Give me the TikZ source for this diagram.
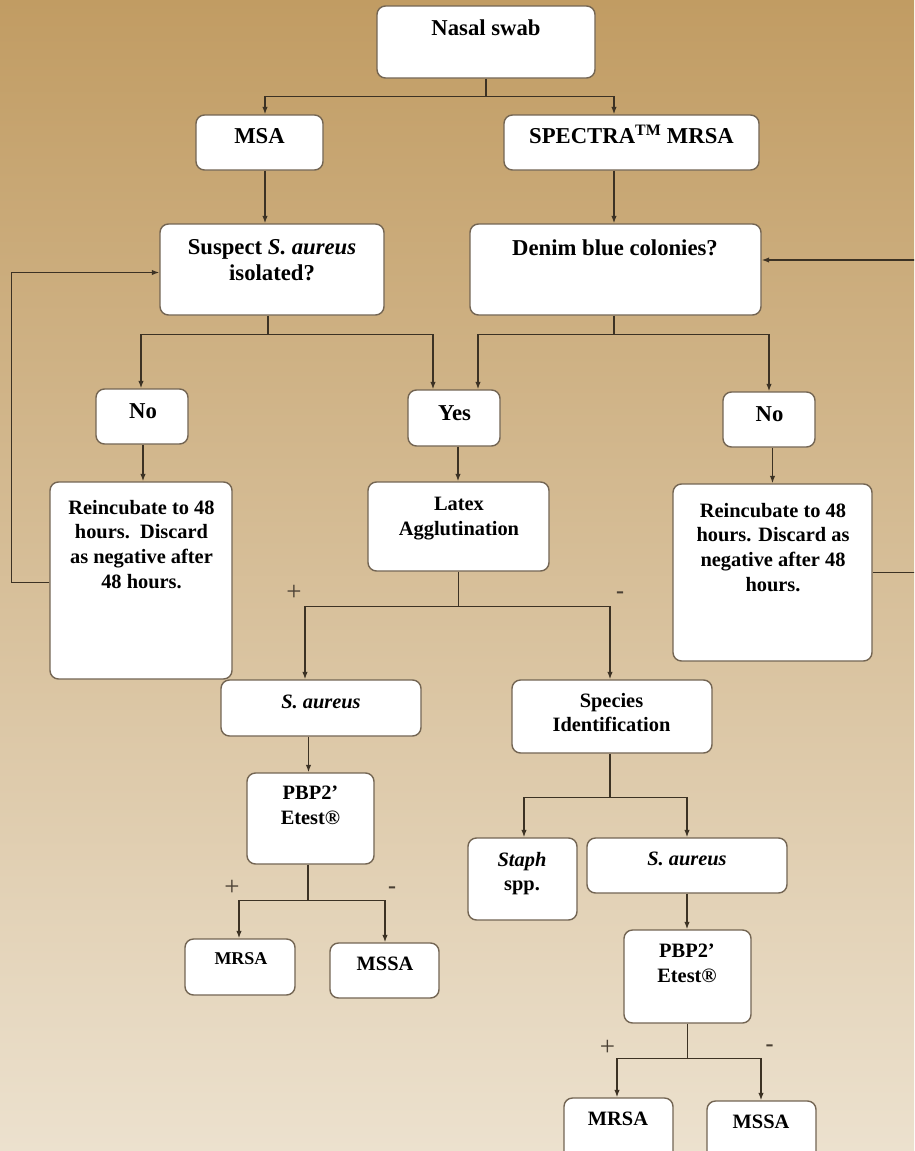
\documentclass[tikz,border=0pt]{standalone}
\usepackage{fontspec}
\setmainfont{Liberation Serif}
\usetikzlibrary{arrows.meta,fit,calc}
\definecolor{bgtop}{HTML}{C19C63}
\definecolor{bgmid}{HTML}{D7BE95}
\definecolor{bgbot}{HTML}{ECE1CE}
\definecolor{edgecol}{HTML}{736553}
\definecolor{lncol}{HTML}{3C3224}
\definecolor{pmcol}{HTML}{4A4034}
\tikzset{
  box/.style={draw=edgecol, fill=white, rounded corners=8.5pt, line width=1.4pt, inner sep=0pt},
  ta/.style={font=\fontsize{22.7}{26}\selectfont\bfseries, inner sep=0pt, align=center, text=black},
  tb/.style={font=\fontsize{20.4}{24.6}\selectfont\bfseries, inner sep=0pt, align=center, text=black},
  tc/.style={font=\fontsize{18}{22}\selectfont\bfseries, inner sep=0pt, align=center, text=black},
  pm/.style={font=\fontsize{27}{27}\selectfont, inner sep=0pt, text=pmcol},
  mn/.style={font=\fontsize{24}{24}\selectfont\bfseries, inner sep=0pt, text=pmcol},
  ln/.style={draw=lncol, line width=1.4pt},
  arr/.style={ln, -{Latex[length=7.5pt,width=5.5pt]}}
}
\begin{document}
\begin{tikzpicture}[x=1pt,y=-1pt]
\useasboundingbox (0,0) rectangle (914,1151);
\clip (0,0) rectangle (914,1151);
\shade[top color=bgtop, middle color=bgmid, bottom color=bgbot] (0,0) rectangle (914,1151);

% boxes
\node[box, fit={(377,6) (595,78)}] (ns) {};
\node[box, fit={(196,115) (323,170)}] (msa) {};
\node[box, fit={(504,115) (759,170)}] (spectra) {};
\node[box, fit={(160,224) (384,315)}] (sus) {};
\node[box, fit={(470,224) (761,315)}] (denim) {};
\node[box, fit={(96,389) (188,444)}] (nol) {};
\node[box, fit={(408,390) (500,446)}] (yes) {};
\node[box, fit={(723,392) (815,447)}] (nor) {};
\node[box, fit={(50,482) (232,679)}] (reinl) {};
\node[box, fit={(368,482) (549,571)}] (latex) {};
\node[box, fit={(673,484) (872,661)}] (reinr) {};
\node[box, fit={(221,680) (421,736)}] (sal) {};
\node[box, fit={(512,680) (712,753)}] (spec) {};
\node[box, fit={(247,773) (374,864)}] (pbpl) {};
\node[box, fit={(468,838) (577,920)}] (staph) {};
\node[box, fit={(587,838) (787,893)}] (sar) {};
\node[box, fit={(185,939) (295,995)}] (mrsal) {};
\node[box, fit={(330,943) (439,998)}] (mssal) {};
\node[box, fit={(624,930) (751,1023)}] (pbpr) {};
\node[box, fit={(564,1098) (673,1175)}] (mrsar) {};
\node[box, fit={(707,1101) (816,1175)}] (mssar) {};

% texts
\node[ta, anchor=base] (nsT) at (486,35) {Nasal swab};
\node[ta, anchor=base] (msaT) at (259.5,143) {MSA};
\node[ta, anchor=base] (spectraT) at (631.5,143) {SPECTRA\textsuperscript{TM} MRSA};
\node[ta, anchor=north] (susT) at (272,239) {Suspect \textit{S. aureus}\\isolated?};
\node[ta, anchor=base] (denimT) at (615,255) {Denim blue colonies?};
\node[ta, anchor=base] (nolT) at (143,418) {No};
\node[ta, anchor=base] (yesT) at (454.5,420) {Yes};
\node[ta, anchor=base] (norT) at (769.5,421) {No};
\node[tb, anchor=north] (reinlT) at (141.5,500) {Reincubate to 48\\hours.\ \ Discard\\as negative after\\48 hours.};
\node[tb, anchor=north] (latexT) at (459,497) {Latex\\Agglutination};
\node[tb, anchor=north] (reinrT) at (773,503) {Reincubate to 48\\hours. Discard as\\negative after 48\\hours.};
\node[tb, anchor=base] (salT) at (321,708) {\textit{S. aureus}};
\node[tb, anchor=north] (specT) at (611.5,693) {Species\\Identification};
\node[tb, anchor=north] (pbplT) at (310.5,786) {PBP2’\\Etest®};
\node[tb, anchor=north] (staphT) at (522,852) {\textit{Staph}\\spp.};
\node[tb, anchor=base] (sarT) at (687,865) {\textit{S. aureus}};
\node[tc, anchor=base] (mrsalT) at (241,964) {MRSA};
\node[tb, anchor=base] (mssalT) at (385,970) {MSSA};
\node[tb, anchor=north] (pbprT) at (687,944) {PBP2’\\Etest®};
\node[tb, anchor=base] (mrsarT) at (618,1125) {MRSA};
\node[tb, anchor=base] (mssarT) at (761,1128) {MSSA};

% plus / minus labels
\node[pm] (p1) at (294,593) {+};
\node[mn] (m1) at (620,595) {-};
\node[pm] (p2) at (232,888) {+};
\node[mn] (m2) at (392,890) {-};
\node[pm] (p3) at (607.6,1048) {+};
\node[mn] (m3) at (769.5,1048) {-};

% connectors
\draw[ln] (ns.south) -- ++(0,18) coordinate (j1);
\draw[arr] (j1) -| ([xshift=5.5pt]msa.north);
\draw[arr] (j1) -| ([xshift=-17.5pt]spectra.north);
\coordinate (c1) at ([xshift=5.5pt]msa.south);
\draw[arr] (c1) -- (c1 |- sus.north);
\coordinate (c2) at ([xshift=-17.5pt]spectra.south);
\draw[arr] (c2) -- (c2 |- denim.north);

\draw[ln] ([xshift=-4pt]sus.south) -- ++(0,19) coordinate (j2);
\draw[arr] (j2) -| ([xshift=-1pt]nol.north);
\draw[arr] (j2) -| ([xshift=-21pt]yes.north);
\draw[ln] ([xshift=-1.5pt]denim.south) -- ++(0,19) coordinate (j3);
\draw[arr] (j3) -| ([xshift=24pt]yes.north);
\draw[arr] (j3) -| (nor.north);

\coordinate (c3) at ([xshift=1pt]nol.south);
\draw[arr] (c3) -- (c3 |- reinl.north);
\coordinate (c4) at ([xshift=4pt]yes.south);
\draw[arr] (c4) -- (c4 |- latex.north);
\coordinate (c5) at ([xshift=3.5pt]nor.south);
\draw[arr] (c5) -- (c5 |- reinr.north);

\draw[arr] ([yshift=-2pt]reinl.west) -- ++(-38,0) |- ([yshift=-3pt]sus.west);
\draw[arr] (reinr.east) -- ++(60,0) |- ([yshift=9.5pt]denim.east);

\draw[ln] (latex.south) -- ++(0,35) coordinate (j4);
\draw[arr] (j4) -| ([xshift=-16pt]sal.north);
\draw[arr] (j4) -| ([xshift=-2pt]spec.north);

\coordinate (c6) at ([xshift=-12.5pt]sal.south);
\draw[arr] (c6) -- (c6 |- pbpl.north);
\draw[ln] ([xshift=-2.5pt]pbpl.south) -- ++(0,36) coordinate (j5);
\draw[arr] (j5) -| ([xshift=-1pt]mrsal.north);
\draw[arr] (j5) -| ([xshift=0.5pt]mssal.north);

\draw[ln] ([xshift=-2pt]spec.south) -- ++(0,44) coordinate (j6);
\draw[arr] (j6) -| ([xshift=1.5pt]staph.north);
\draw[arr] (j6) -| (sar.north);

\coordinate (c7) at (sar.south);
\draw[arr] (c7) -- (c7 |- pbpr.north);
\draw[ln] (pbpr.south) -- ++(0,35) coordinate (j7);
\draw[arr] (j7) -| ([xshift=-1.5pt]mrsar.north);
\draw[arr] (j7) -| ([xshift=-0.5pt]mssar.north);
\end{tikzpicture}
\end{document}
